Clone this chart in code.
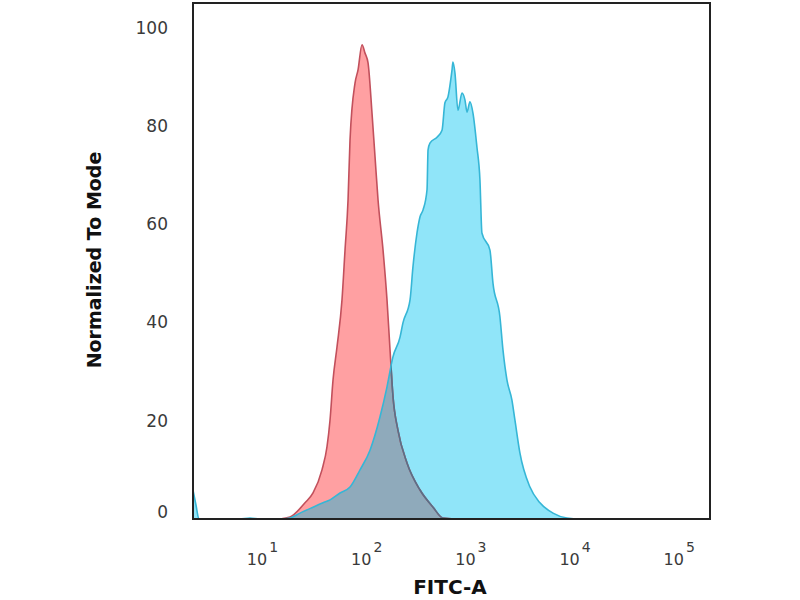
<!DOCTYPE html>
<html>
<head>
<meta charset="utf-8">
<script src="https://cdn.jsdelivr.net/npm/d3@7"></script>
<style>
  body { margin: 0; background: #fff; }
  svg { display: block; }
</style>
</head>
<body>
<div id="chart"></div>
<script>
// FITC-A histogram overlay, normalized to mode

// isotype (red) - x as log10 of FITC-A, y as % of mode
var redExp = [1.168, 1.264, 1.408, 1.485, 1.571, 1.619, 1.648, 1.677, 1.715, 1.763, 1.792, 1.821, 1.840, 1.888, 1.917, 1.955, 1.984, 2.013, 2.051, 2.080, 2.109, 2.157, 2.195, 2.224, 2.253, 2.300, 2.387, 2.512, 2.637, 2.732, 2.85];
var redVal = [0, 0.4, 3.3, 5.3, 10.0, 14.7, 20.1, 28.3, 35.0, 44.6, 54.7, 64.9, 77.1, 88.7, 91.4, 96.5, 94.8, 92.8, 82.6, 73.7, 64.9, 54.7, 44.6, 34.4, 24.8, 18.1, 11.4, 5.9, 2.4, 0.2, 0];

// stained sample (blue)
var blueExp = [0.333, 0.362, 0.39, 0.78, 0.88, 0.976, 1.168, 1.264, 1.36, 1.485, 1.581, 1.648, 1.744, 1.840, 1.936, 2.032, 2.128, 2.195, 2.252, 2.32, 2.348, 2.416, 2.444, 2.483, 2.512, 2.541, 2.579, 2.589, 2.607, 2.675, 2.723, 2.751, 2.780, 2.819, 2.828, 2.847, 2.876, 2.915, 2.943, 2.963, 2.991, 3.020, 3.058, 3.087, 3.106, 3.183, 3.212, 3.279, 3.308, 3.346, 3.394, 3.423, 3.471, 3.567, 3.663, 3.788, 3.922, 4.047, 5.295];
var blueVal = [5.9, 2.8, 0, 0, 0.2, 0, 0, 0.2, 1.2, 2.4, 3.3, 3.9, 5.3, 6.5, 10.0, 14.0, 20.8, 26.9, 33.0, 37.0, 39.9, 44.6, 51.3, 58.2, 61.5, 62.9, 67.0, 75.1, 76.5, 77.7, 79.1, 84.7, 85.9, 91.4, 93.0, 90.8, 83.2, 86.7, 85.3, 82.8, 84.9, 82.6, 75.7, 69.0, 58.2, 54.7, 48.0, 41.1, 34.4, 28.3, 24.2, 20.1, 13.4, 6.5, 3.3, 1.2, 0.2, 0, 0];

var yTicks = [0, 20, 40, 60, 80, 100];
var xDecades = [1, 2, 3, 4, 5];

var width = 800;
var height = 600;
var plot = { left: 193, right: 710, top: 3, bottom: 519 };

var svg = d3
  .select('#chart')
  .append('svg')
  .attr('width', width)
  .attr('height', height);

var x_scale = d3
  .scaleLog()
  .domain([Math.pow(10, 0.333), Math.pow(10, 5.295)])
  .range([plot.left, plot.right]);
var y_scale = d3
  .scaleLinear()
  .domain([0, 105])
  .range([plot.bottom, plot.top]);

var red = redExp.map(function(e, i) { return { x: Math.pow(10, e), y: redVal[i] }; });
var blue = blueExp.map(function(e, i) { return { x: Math.pow(10, e), y: blueVal[i] }; });

var area = d3
  .area()
  .x(function(d) { return x_scale(d.x); })
  .y0(y_scale(0))
  .y1(function(d) { return y_scale(d.y); })
  .curve(d3.curveMonotoneX);
var line = d3
  .line()
  .x(function(d) { return x_scale(d.x); })
  .y(function(d) { return y_scale(d.y); })
  .curve(d3.curveMonotoneX);

var defs = svg.append('defs');
defs.append('clipPath').attr('id', 'plotclip')
  .append('rect')
  .attr('x', plot.left).attr('y', plot.top)
  .attr('width', plot.right - plot.left).attr('height', plot.bottom - plot.top);
defs.append('clipPath').attr('id', 'blueclip')
  .append('path').attr('d', area(blue));

var g = svg.append('g').attr('clip-path', 'url(#plotclip)');

// blue fill, then red, then the overlap in gray
g.append('path').attr('d', area(blue)).attr('fill', '#90e5f9');
g.append('path').attr('d', area(red)).attr('fill', '#ffa0a2');
g.append('path').attr('d', area(red)).attr('fill', '#8faabb').attr('clip-path', 'url(#blueclip)');

g.append('path').attr('d', line(red)).attr('fill', 'none').attr('stroke', '#c2505c').attr('stroke-width', 1.6);
g.append('path').attr('d', line(red)).attr('fill', 'none').attr('stroke', '#56718a').attr('stroke-width', 1.6).attr('clip-path', 'url(#blueclip)');
g.append('path').attr('d', line(blue)).attr('fill', 'none').attr('stroke', '#36b6d6').attr('stroke-width', 1.6);

// frame
svg.append('rect')
  .attr('x', plot.left).attr('y', plot.top)
  .attr('width', plot.right - plot.left).attr('height', plot.bottom - plot.top)
  .attr('fill', 'none').attr('stroke', '#222').attr('stroke-width', 2);

// y tick labels
svg.selectAll('.ytick')
  .data(yTicks)
  .enter()
  .append('text')
  .attr('class', 'ytick')
  .attr('x', 168)
  .attr('y', function(d) { return y_scale(d) + (d === 0 ? -1 : 6); })
  .attr('text-anchor', 'end')
  .attr('font-family', 'DejaVu Sans')
  .attr('font-size', 17)
  .attr('fill', '#3a3a3a')
  .text(function(d) { return d; });

// x tick labels, 10^n
var xt = svg.selectAll('.xtick')
  .data(xDecades)
  .enter()
  .append('text')
  .attr('class', 'xtick')
  .attr('x', function(d) { return x_scale(Math.pow(10, d)); })
  .attr('y', 565)
  .attr('text-anchor', 'middle')
  .attr('font-family', 'DejaVu Sans')
  .attr('fill', '#3a3a3a');
xt.append('tspan').attr('font-size', 16).text('10');
xt.append('tspan').attr('font-size', 14).attr('dx', 2).attr('dy', -13).text(function(d) { return d; });

// axis titles
svg.append('text')
  .attr('x', 450)
  .attr('y', 594)
  .attr('text-anchor', 'middle')
  .attr('font-family', 'DejaVu Sans')
  .attr('font-weight', 'bold')
  .attr('font-size', 20)
  .attr('fill', '#111')
  .text('FITC-A');

svg.append('text')
  .attr('transform', 'translate(101,260) rotate(-90)')
  .attr('text-anchor', 'middle')
  .attr('font-family', 'DejaVu Sans')
  .attr('font-weight', 'bold')
  .attr('font-size', 19)
  .attr('fill', '#111')
  .text('Normalized To Mode');
</script>
</body>
</html>
